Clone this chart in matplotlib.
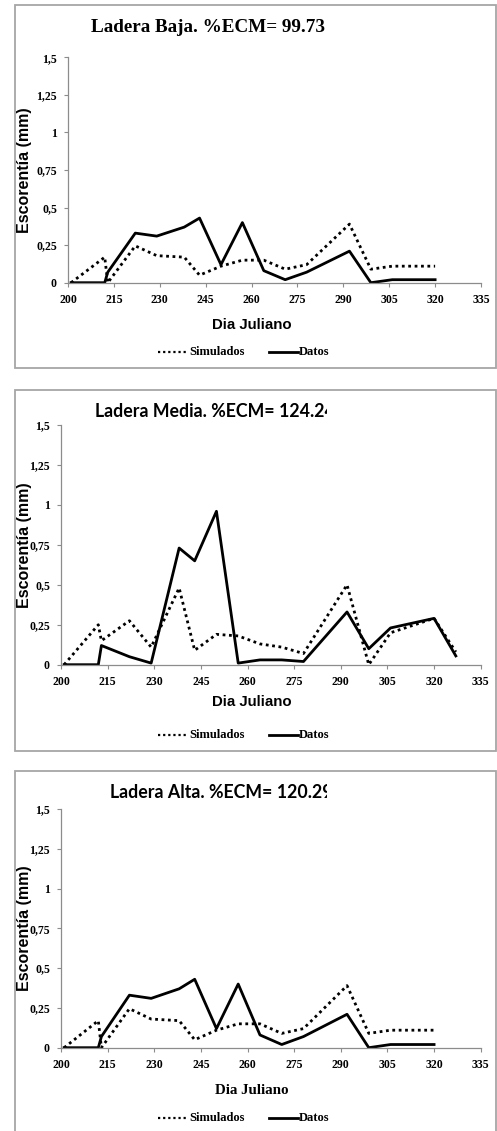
import numpy as np
import matplotlib
matplotlib.use("Agg")
import matplotlib.pyplot as plt
from matplotlib.patches import Rectangle
from matplotlib.transforms import Bbox

W, H = 497, 1131

# Ladera Baja
dias_baja = [201, 212, 213, 222, 229, 238, 243, 250, 257, 264, 271, 278, 292, 299, 306, 320]
sim_baja = [0, 0.17, 0.0, 0.245, 0.18, 0.17, 0.05, 0.11, 0.15, 0.15, 0.09, 0.12, 0.39, 0.09, 0.11, 0.11]
datos_baja = [0, 0, 0.07, 0.33, 0.31, 0.37, 0.43, 0.12, 0.40, 0.08, 0.02, 0.07, 0.21, 0.0, 0.02, 0.02]

# Ladera Media
dias_media = [201, 212, 213, 222, 229, 238, 243, 250, 257, 264, 271, 278, 292, 299, 306, 320, 327]
sim_media = [0, 0.25, 0.15, 0.275, 0.11, 0.48, 0.09, 0.19, 0.18, 0.13, 0.11, 0.07, 0.50, 0.0, 0.20, 0.29, 0.08]
datos_media = [0, 0, 0.12, 0.05, 0.01, 0.73, 0.65, 0.96, 0.01, 0.03, 0.03, 0.02, 0.33, 0.10, 0.23, 0.29, 0.055]

# Ladera Alta
dias_alta = [201, 212, 213, 222, 229, 238, 243, 250, 257, 264, 271, 278, 292, 299, 306, 320]
sim_alta = [0, 0.17, 0.0, 0.245, 0.18, 0.17, 0.05, 0.11, 0.15, 0.15, 0.09, 0.12, 0.39, 0.09, 0.11, 0.11]
datos_alta = [0, 0, 0.07, 0.33, 0.31, 0.37, 0.43, 0.12, 0.40, 0.08, 0.02, 0.07, 0.21, 0.0, 0.02, 0.02]

xticks = np.arange(200, 336, 15)
yticks = [0, 0.25, 0.5, 0.75, 1, 1.25, 1.5]
ytick_labels = ["0", "0,25", "0,5", "0,75", "1", "1,25", "1,5"]

SERIF = "Liberation Serif"
SANS = "Liberation Sans"
CALIBRI = "Lato"
GRAY = "#8c8c8c"
DOTS = (0, (1, 1.3))


def fx(x):
    return x / W


def fy(y):
    return 1 - y / H


fig = plt.figure(figsize=(W / 100, H / 100), dpi=100)

panels = [
    # plot area (left, right, top, bottom) and box (top, bottom) in pixels
    dict(dias=dias_baja, sim=sim_baja, datos=datos_baja,
         area=(68, 481, 57.3, 282.7), box=(5, 368),
         title="Ladera Baja. %ECM= 99.73", tfont=SERIF, tx=208, ty=27, tha="center", tsize=13.8,
         xl_font=SANS, xl_y=325, leg_y=352),
    dict(dias=dias_media, sim=sim_media, datos=datos_media,
         area=(61, 480.7, 425, 664.7), box=(390, 750.7),
         title="Ladera Media. %ECM= 124.24", tfont=CALIBRI, tx=95, ty=412, tha="left", tsize=12.8,
         xl_font=SANS, xl_y=702, leg_y=735),
    dict(dias=dias_alta, sim=sim_alta, datos=datos_alta,
         area=(61, 480.7, 809, 1047.7), box=(770.7, 1145),
         title="Ladera Alta. %ECM= 120.29", tfont=CALIBRI, tx=110, ty=793, tha="left", tsize=12.8,
         xl_font=SERIF, xl_y=1090, leg_y=1118),
]

for p in panels:
    l, r, t, b = p["area"]
    ax = fig.add_axes([fx(l), fy(b), fx(r) - fx(l), fy(t) - fy(b)])
    ax.plot(p["dias"], p["sim"], color="black", lw=2.0, linestyle=DOTS)
    ax.plot(p["dias"], p["datos"], color="black", lw=2.0)
    ax.set_xlim(200, 335)
    ax.set_ylim(0, 1.5)
    ax.set_xticks(xticks)
    ax.set_yticks(yticks)
    ax.set_yticklabels(ytick_labels)
    for s in ["top", "right"]:
        ax.spines[s].set_visible(False)
    for s in ["left", "bottom"]:
        ax.spines[s].set_color(GRAY)
        ax.spines[s].set_linewidth(0.9)
    ax.tick_params(axis="both", colors=GRAY, length=3, width=0.8, pad=5)
    for lab in ax.get_xticklabels() + ax.get_yticklabels():
        lab.set_fontfamily(SERIF)
        lab.set_fontweight("bold")
        lab.set_fontsize(8.5)
        lab.set_color("black")
    ax.patch.set_alpha(0)

    # chart box
    bt, bb = p["box"]
    fig.patches.append(Rectangle((fx(15), fy(bb)), fx(496) - fx(15), fy(bt) - fy(bb),
                                 transform=fig.transFigure, fill=False,
                                 edgecolor="#a6a6a6", lw=1.3))

    # title (cut off on the right like in the original)
    txt = fig.text(fx(p["tx"]), fy(p["ty"]), p["title"], ha=p["tha"], va="center",
                   fontsize=p["tsize"], fontweight="bold", family=p["tfont"])
    if p["tha"] == "left":
        txt.set_clip_on(True)
        txt.set_clip_box(Bbox.from_extents(15, 0, 327, H))

    # axis labels
    fig.text(fx(25), fy((t + b) / 2), "Escorentía (mm)", rotation=90, ha="center", va="center",
             fontsize=11.5, fontweight="bold", family=SANS)
    fig.text(fx(252), fy(p["xl_y"]), "Dia Juliano", ha="center", va="center",
             fontsize=10.8, fontweight="bold", family=p["xl_font"])

    # legend
    ly = fy(p["leg_y"])
    fig.lines.append(plt.Line2D([fx(158), fx(187)], [ly, ly], transform=fig.transFigure,
                                color="black", lw=1.6, linestyle=DOTS))
    fig.text(fx(189), ly, "Simulados", ha="left", va="center", fontsize=9,
             fontweight="bold", family=SERIF)
    fig.lines.append(plt.Line2D([fx(269), fx(298)], [ly, ly], transform=fig.transFigure,
                                color="black", lw=2.0))
    fig.text(fx(299), ly, "Datos", ha="left", va="center", fontsize=9,
             fontweight="bold", family=SERIF)

fig.savefig("out.png", dpi=100, facecolor="white")
